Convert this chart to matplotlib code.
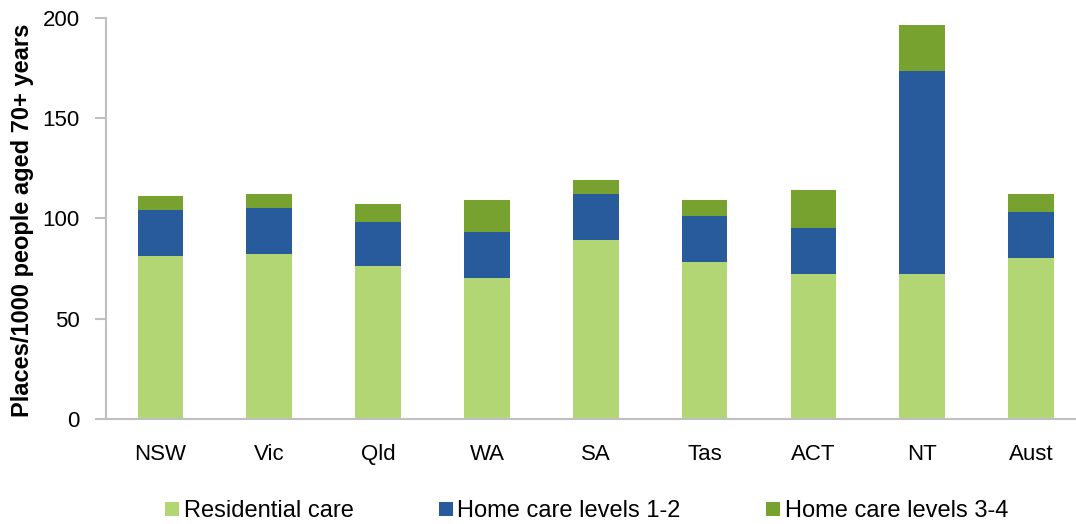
import matplotlib
matplotlib.use("Agg")
import matplotlib.pyplot as plt
import numpy as np

categories = ["NSW", "Vic", "Qld", "WA", "SA", "Tas", "ACT", "NT", "Aust"]
residential = [81.3, 82.3, 76.3, 70.3, 89.3, 78.3, 72.3, 72.5, 80.4]
home_1_2 = [22.9, 22.9, 21.9, 22.9, 22.8, 22.9, 22.9, 101.0, 22.8]
home_3_4 = [7.0, 6.8, 8.8, 16.0, 7.0, 8.0, 18.9, 22.9, 8.9]
series_names = ["Residential care", "Home care levels 1-2", "Home care levels 3-4"]
colors = ["#B3D675", "#275B9B", "#78A22F"]
yticks = [0, 50, 100, 150, 200]

plt.rcParams['font.family'] = ['Liberation Sans', 'DejaVu Sans']
FS = 16

fig = plt.figure(figsize=(10.76, 5.24), dpi=100)
ax = fig.add_axes([106/1076, 1-419.3/524, (1085.5-106)/1076, (419.3-17.5)/524])

x = np.arange(len(categories))
w = 0.42
bottom = np.zeros(len(categories))
handles = []
for vals, name, c in zip([residential, home_1_2, home_3_4], series_names, colors):
    h = ax.bar(x, vals, w, bottom=bottom, color=c, label=name, zorder=2)
    handles.append(h)
    bottom += np.array(vals)

ax.set_xlim(-0.5, len(categories) - 0.5)
ax.set_ylim(0, 200)
ax.set_yticks(yticks)
ax.set_xticks(x)
ax.set_xticklabels(categories)
ax.tick_params(axis='x', length=0, pad=18, labelsize=FS)
ax.tick_params(axis='y', length=8, width=1.5, color='#BFBFBF', pad=11, labelsize=FS)
for s in ['top', 'right']:
    ax.spines[s].set_visible(False)
for s in ['left', 'bottom']:
    ax.spines[s].set_color('#BFBFBF')
    ax.spines[s].set_linewidth(1.5)
ax.set_ylabel("Places/1000 people aged 70+ years", fontsize=17, fontweight='bold')
ax.yaxis.set_label_coords(-0.074, 0.495)

fig.legend(handles, series_names, loc='center', bbox_to_anchor=(0.545, 1 - 511/524), ncol=3,
           frameon=False, fontsize=17, handlelength=0.6, handleheight=0.55, handletextpad=0.2,
           columnspacing=3.6, borderaxespad=0, borderpad=0)

fig.savefig("out.png", dpi=100)
